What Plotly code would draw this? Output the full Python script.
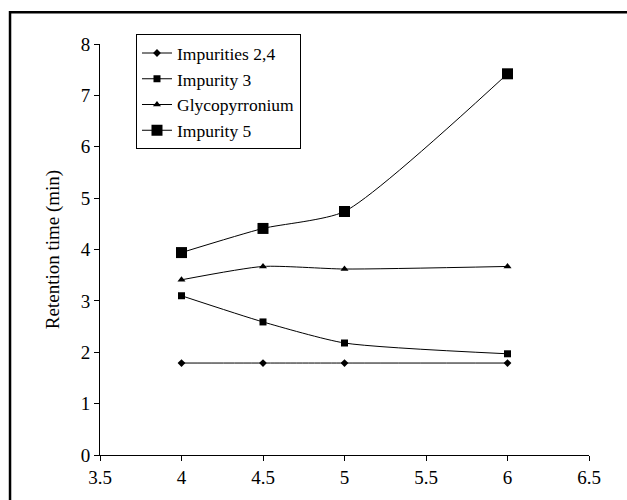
import plotly.graph_objects as go

ph = [4, 4.5, 5, 6]
imp24 = [1.79, 1.79, 1.79, 1.79]
imp3 = [3.1, 2.59, 2.18, 1.97]
glyco = [3.41, 3.67, 3.62, 3.67]
imp5 = [3.94, 4.41, 4.74, 7.42]

names = ["Impurities 2,4", "Impurity 3", "Glycopyrronium", "Impurity 5"]
series = [imp24, imp3, glyco, imp5]
symbols = ["diamond", "square", "triangle-up", "square"]
sizes = [6, 7, 7, 11]

fig = go.Figure()
for n, s, sym, sz in zip(names, series, symbols, sizes):
    fig.add_trace(go.Scatter(
        x=ph, y=s, name=n, mode="lines+markers",
        line=dict(color="black", width=1, shape="spline", smoothing=0.6),
        marker=dict(symbol=sym, size=sz, color="black"),
    ))

font = "'Liberation Serif', 'Times New Roman', Times, serif"
fig.update_layout(
    width=627, height=500,
    margin=dict(l=100, r=38, t=44, b=40),
    paper_bgcolor="white", plot_bgcolor="white",
    font=dict(family=font, size=19, color="black"),
    showlegend=True,
    legend=dict(x=0.0736, y=1.024, xanchor="left", yanchor="top",
                bordercolor="black", borderwidth=1, bgcolor="white",
                font=dict(family=font, size=17.5), tracegroupgap=0,
                itemwidth=30, entrywidth=155),
    xaxis=dict(range=[3.5, 6.5], dtick=0.5, tick0=3.5, showgrid=False, zeroline=False,
               showline=True, linecolor="black", linewidth=1,
               ticks="outside", ticklen=5, tickcolor="black",
               tickfont=dict(family=font, size=19)),
    yaxis=dict(range=[0, 8], dtick=1, showgrid=False, zeroline=False,
               showline=True, linecolor="black", linewidth=1,
               ticks="outside", ticklen=5, tickcolor="black",
               tickfont=dict(family=font, size=19),
               title=dict(text="Retention time (min)", font=dict(family=font, size=19), standoff=16)),
    shapes=[dict(type="rect", xref="paper", yref="paper",
                 x0=-0.184, x1=1.15, y0=-0.2, y1=1.077,
                 line=dict(color="black", width=2.5), layer="below")],
)

fig.write_html("out.html")
